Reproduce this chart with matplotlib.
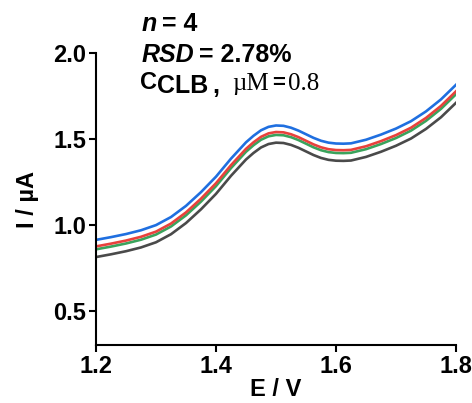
import matplotlib
matplotlib.use('Agg')
import matplotlib.pyplot as plt

# potential (V) and currents (uA) for the four repeated scans
potential = [1.200, 1.225, 1.250, 1.275, 1.300, 1.325, 1.350, 1.375, 1.400,
             1.425, 1.450, 1.4625, 1.475, 1.4875, 1.500, 1.5125, 1.525,
             1.5375, 1.550, 1.5625, 1.575, 1.5875, 1.600, 1.6125, 1.625,
             1.650, 1.675, 1.700, 1.725, 1.750, 1.775, 1.800]
scan_blue = [0.912, 0.928, 0.946, 0.968, 0.998, 1.045, 1.110, 1.190, 1.280,
             1.385, 1.480, 1.518, 1.550, 1.570, 1.578, 1.576, 1.565,
             1.548, 1.527, 1.506, 1.489, 1.478, 1.473, 1.472, 1.474,
             1.495, 1.525, 1.560, 1.603, 1.660, 1.730, 1.815]
scan_red = [0.874, 0.890, 0.908, 0.930, 0.960, 1.007, 1.072, 1.152, 1.242,
            1.347, 1.442, 1.480, 1.512, 1.532, 1.540, 1.538, 1.527,
            1.510, 1.489, 1.468, 1.451, 1.440, 1.435, 1.434, 1.436,
            1.457, 1.487, 1.522, 1.565, 1.622, 1.692, 1.777]
scan_green = [0.857, 0.873, 0.891, 0.913, 0.943, 0.990, 1.055, 1.135, 1.225,
              1.330, 1.425, 1.463, 1.495, 1.515, 1.523, 1.521, 1.510,
              1.493, 1.472, 1.451, 1.434, 1.423, 1.418, 1.417, 1.419,
              1.440, 1.470, 1.505, 1.548, 1.605, 1.675, 1.760]
scan_black = [0.812, 0.828, 0.846, 0.868, 0.898, 0.945, 1.010, 1.090, 1.180,
              1.285, 1.380, 1.418, 1.450, 1.470, 1.478, 1.476, 1.465,
              1.448, 1.427, 1.406, 1.389, 1.378, 1.373, 1.372, 1.374,
              1.395, 1.425, 1.460, 1.502, 1.558, 1.626, 1.710]

x_ticks = [1.2, 1.4, 1.6, 1.8]
y_ticks = [0.5, 1.0, 1.5, 2.0]

W, H = 472, 403
plt.rcParams['font.family'] = ['Liberation Sans', 'DejaVu Sans']
SERIF = ['Liberation Serif', 'DejaVu Serif']

fig = plt.figure(figsize=(W / 100, H / 100), dpi=100)
ax = fig.add_axes([96 / W, 1 - 345 / H, (456 - 96) / W, (345 - 53) / H])

ax.plot(potential, scan_black, color='#4a4a4a', lw=1.9)
ax.plot(potential, scan_green, color='#3aa35c', lw=1.9)
ax.plot(potential, scan_red, color='#e8413c', lw=1.9)
ax.plot(potential, scan_blue, color='#1f6fe0', lw=1.9)

ax.set_xlim(1.2, 1.8)
ax.set_ylim(0.3, 2.0)
ax.set_xticks(x_ticks)
ax.set_yticks(y_ticks)
ax.set_xticklabels([f'{t:.1f}' for t in x_ticks])
ax.set_yticklabels([f'{t:.1f}' for t in y_ticks])
for side in ['top', 'right']:
    ax.spines[side].set_visible(False)
for side in ['left', 'bottom']:
    ax.spines[side].set_linewidth(1.5)
ax.tick_params(width=1.5, length=5, labelsize=17, pad=2)
for lab in ax.get_xticklabels() + ax.get_yticklabels():
    lab.set_fontweight('bold')
ax.set_xlabel('E / V', fontsize=17, fontweight='bold', labelpad=0)
ax.set_ylabel('I / µA', fontsize=17, fontweight='bold', labelpad=10)


def px_text(x, y, s, **kw):
    fig.text(x / W, 1 - y / H, s, va='baseline', ha='left', **kw)


px_text(142, 31, 'n', fontsize=18, fontweight='bold', style='italic')
px_text(162, 31, '= 4', fontsize=18, fontweight='bold')
px_text(142, 62, 'RSD', fontsize=18, fontweight='bold', style='italic')
px_text(199, 62, '= 2.78%', fontsize=18, fontweight='bold')
px_text(140, 89, 'C', fontsize=17, fontweight='bold')
px_text(157, 93, 'CLB', fontsize=18, fontweight='bold')
px_text(212, 93, ',', fontsize=18, fontweight='bold')
px_text(232, 90, 'µM', fontsize=18, family=SERIF)
px_text(272, 89, '=', fontsize=16, fontweight='bold')
px_text(288, 90, '0.8', fontsize=18, family=SERIF)

fig.savefig('out.png', dpi=100)
